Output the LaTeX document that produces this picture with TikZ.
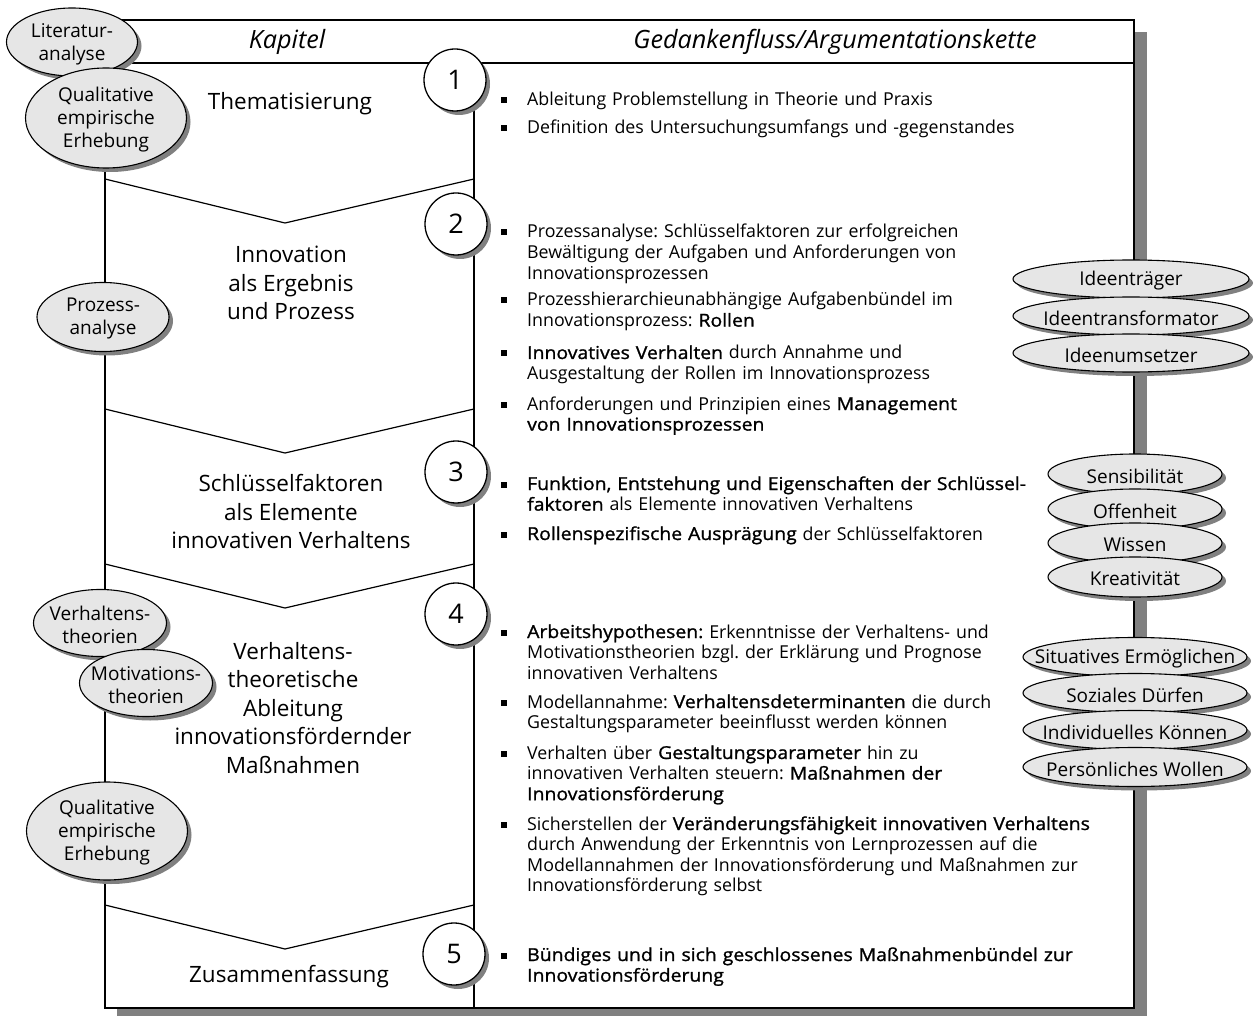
\documentclass[tikz,border=0pt]{standalone}
\usepackage{fontspec}
\setmainfont{Open Sans}
\newfontfamily\emfont[FakeBold=1.2, FakeStretch=1.09]{Open Sans}
\usetikzlibrary{shapes.geometric,shadows}
\definecolor{shadowgray}{HTML}{808080}
\definecolor{tagfill}{HTML}{E6E6E6}
\newcommand\emtxt[1]{{\emfont #1}}
\frenchspacing

% grey tag ellipse with drop shadow: name, x, y, x radius, y radius, text
\newcommand\tagel[6]{%
  \fill[shadowgray] (#2+4,#3+4) ellipse [x radius=#4, y radius=#5];
  \filldraw[fill=tagfill, draw=black, line width=1.1pt] (#2,#3) ellipse [x radius=#4, y radius=#5];
  \node[tagtext] (#1) at (#2,#3+2) {#6};}

% bulleted entry: name, x, baseline y, text
\newcommand\bitem[4]{%
  \node[item] (#1) at (#2,#3) {#4};
  \node[bul] (#1-b) at ([xshift=-23pt,yshift=5.5pt]#1.base west) {};}

\tikzset{
  tagtext/.style={align=center, inner sep=0pt, font=\fontsize{19}{23}\selectfont},
  num/.style={circle, draw=black, line width=1.3pt, fill=white, minimum size=62pt,
    inner sep=0pt, font=\fontsize{27}{27}\selectfont,
    drop shadow={shadow xshift=4pt, shadow yshift=-4pt, fill=shadowgray, opacity=1}},
  chap/.style={align=center, inner sep=0pt, font=\fontsize{22.5}{28.5}\selectfont},
  head/.style={inner sep=0pt, font=\fontsize{25.2}{25.2}\selectfont\itshape},
  item/.style={anchor=base west, text width=620pt, align=left, inner sep=0pt,
    font=\fontsize{17.8}{20.6}\selectfont},
  bul/.style={rectangle, fill=black, minimum size=6pt, inner sep=0pt},
  frame/.style={draw=black, line width=1.5pt},
  rule/.style={draw=black, line width=1.2pt}
}

\begin{document}
\begin{tikzpicture}[x=1pt, y=-1pt]
\useasboundingbox (0,0) rectangle (1259,1016);

% table frame with shadow
\fill[shadowgray] (117,32) rectangle (1147,1030);
\filldraw[frame, fill=white] (105,20) rectangle (1134,1008);
\draw[rule] (105,63) -- (1134,63);
\draw[rule] (474,63) -- (474,1008);

% chevron separators between chapters
\draw[rule] (105,179) -- (285,223) -- (474,179);
\draw[rule] (105,409) -- (285,453) -- (474,409);
\draw[rule] (105,564) -- (285,608) -- (474,564);
\draw[rule] (105,905) -- (285,949) -- (474,905);

% column heads
\node[head] (hk) at (287,42) {Kapitel};
\node[head] (hg) at (835,42) {Gedankenfluss/Argumentationskette};

% chapter titles
\node[chap] (c1) at (290,104) {Thematisierung};
\node[chap] (c2) at (291,283) {Innovation\\als Ergebnis\\und Prozess};
\node[chap] (c3) at (291,512) {Schlüsselfaktoren\\als Elemente\\innovativen Verhaltens};
\node[chap] (c4) at (293,708) {Verhaltens-\\theoretische\\Ableitung\\innovationsfördernder\\Maßnahmen};
\node[chap] (c5) at (289,977) {Zusammenfassung};

% line of argument
\bitem{a1}{527}{106}{Ableitung Problemstellung in Theorie und Praxis}
\bitem{a2}{527}{134}{Definition des Untersuchungsumfangs und -gegenstandes}

\bitem{b1}{527}{238}{Prozessanalyse: Schlüsselfaktoren zur erfolgreichen\\Bewältigung der Aufgaben und Anforderungen von\\Innovationsprozessen}
\bitem{b2}{527}{306}{Prozesshierarchieunabhängige Aufgabenbündel im\\Innovationsprozess: \emtxt{Rollen}}
\bitem{b3}{527}{359}{\emtxt{Innovatives Verhalten} durch Annahme und\\Ausgestaltung der Rollen im Innovationsprozess}
\bitem{b4}{527}{410}{Anforderungen und Prinzipien eines \emtxt{Management}\\\emtxt{von Innovationsprozessen}}

\bitem{d1}{527}{490}{\emtxt{Funktion, Entstehung und Eigenschaften der Schlüssel-}\\\emtxt{faktoren} als Elemente innovativen Verhaltens}
\bitem{d2}{527}{540}{\emtxt{Rollenspezifische Ausprägung} der Schlüsselfaktoren}

\bitem{e1}{527}{638}{\emtxt{Arbeitshypothesen:} Erkenntnisse der Verhaltens- und\\Motivationstheorien bzgl. der Erklärung und Prognose\\innovativen Verhaltens}
\bitem{e2}{527}{708}{Modellannahme: \emtxt{Verhaltensdeterminanten} die durch\\Gestaltungsparameter beeinflusst werden können}
\bitem{e3}{527}{759}{Verhalten über \emtxt{Gestaltungsparameter} hin zu\\innovativen Verhalten steuern: \emtxt{Maßnahmen der}\\\emtxt{Innovationsförderung}}
\bitem{e4}{527}{830}{Sicherstellen der \emtxt{Veränderungsfähigkeit innovativen Verhaltens}\\durch Anwendung der Erkenntnis von Lernprozessen auf die\\Modellannahmen der Innovationsförderung und Maßnahmen zur\\Innovationsförderung selbst}

\bitem{f1}{527}{961}{\emtxt{Bündiges und in sich geschlossenes Maßnahmenbündel zur}\\\emtxt{Innovationsförderung}}

% chapter numbers
\node[num] (n1) at (455,80) {1};
\node[num] (n2) at (456,224) {2};
\node[num] (n3) at (456,472) {3};
\node[num] (n4) at (456,614) {4};
\node[num] (n5) at (454,954) {5};

% methods on the left
\tagel{lit}{72}{42}{65.5}{34}{Literatur-\\analyse}
\tagel{qe1}{106}{118}{80.5}{50}{Qualitative\\empirische\\Erhebung}
\tagel{pa}{103}{317}{66}{34.5}{Prozess-\\analyse}
\tagel{vt}{100}{623}{66.5}{33.5}{Verhaltens-\\theorien}
\tagel{mt}{146}{683}{66.5}{33.5}{Motivations-\\theorien}
\tagel{qe2}{107}{831}{80.5}{49}{Qualitative\\empirische\\Erhebung}

% roles
\tagel{r1}{1131}{279}{118}{19}{Ideenträger}
\tagel{r2}{1131}{316}{118}{19}{Ideentransformator}
\tagel{r3}{1131}{353}{118}{19}{Ideenumsetzer}

% key factors
\tagel{k1}{1135}{474}{87}{20}{Sensibilität}
\tagel{k2}{1135}{509}{87}{20}{Offenheit}
\tagel{k3}{1135}{543}{87}{20}{Wissen}
\tagel{k4}{1135}{577}{87}{20}{Kreativität}

% behaviour determinants
\tagel{v1}{1135}{657}{112}{19.5}{Situatives Ermöglichen}
\tagel{v2}{1135}{693}{112}{19.5}{Soziales Dürfen}
\tagel{v3}{1135}{730}{112}{19.5}{Individuelles Können}
\tagel{v4}{1135}{767}{112}{19.5}{Persönliches Wollen}
\end{tikzpicture}
\end{document}
